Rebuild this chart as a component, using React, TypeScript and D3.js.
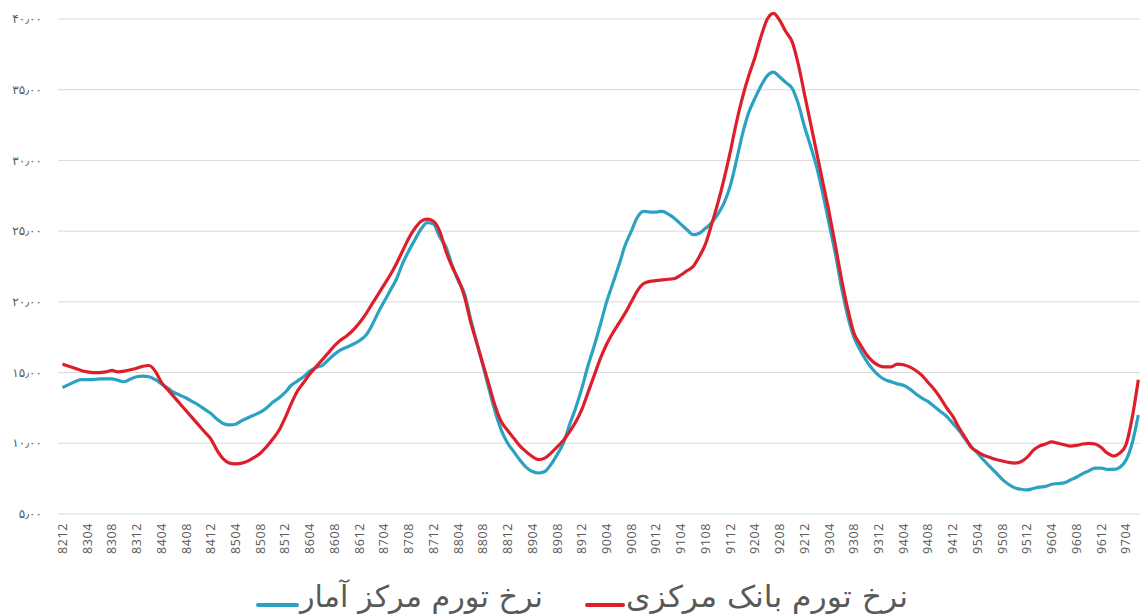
import React from 'react';
import * as d3 from 'd3';

// monthly inflation rates, 8212 .. 9706
const startYear = 82;
const startMonth = 12;

const centralBank = [
  15.6, 15.45, 15.3, 15.15, 15.05, 15.0, 15.0, 15.05, 15.15, 15.05,
  15.1, 15.2, 15.3, 15.45, 15.5, 15.1, 14.3, 13.8, 13.3, 12.8,
  12.3, 11.8, 11.3, 10.8, 10.3, 9.5, 8.9, 8.6, 8.55, 8.6,
  8.75, 9.0, 9.3, 9.75, 10.3, 10.9, 11.8, 12.8, 13.7, 14.3,
  14.9, 15.4, 15.9, 16.4, 16.9, 17.3, 17.6, 18.0, 18.5, 19.1,
  19.8, 20.5, 21.2, 21.9, 22.7, 23.6, 24.5, 25.2, 25.7, 25.85,
  25.7, 25.0, 23.6, 22.5, 21.6, 20.4, 18.6, 17.1, 15.6, 14.1,
  12.6, 11.5, 10.9, 10.35, 9.8, 9.4, 9.05, 8.85, 8.95, 9.3,
  9.75, 10.2, 10.8, 11.5, 12.4, 13.6, 14.8, 16.0, 17.0, 17.8,
  18.5, 19.2, 20.0, 20.8, 21.3, 21.45, 21.5, 21.55, 21.6, 21.65,
  21.9, 22.2, 22.5, 23.2, 24.1, 25.5, 27.0, 28.7, 30.6, 32.7,
  34.5, 36.0, 37.3, 38.8, 40.0, 40.4, 39.9, 39.1, 38.4, 36.8,
  34.7, 32.6, 30.5, 28.4, 26.3, 24.0, 21.6, 19.5, 17.8, 17.0,
  16.3, 15.8, 15.5, 15.4, 15.4, 15.6, 15.55, 15.4, 15.15, 14.8,
  14.3, 13.8, 13.2, 12.5, 11.9, 11.1, 10.4, 9.7, 9.4, 9.15,
  9.0, 8.85, 8.75, 8.65, 8.6, 8.7, 9.0, 9.5, 9.8, 9.95,
  10.1, 10.0, 9.9, 9.8, 9.85, 9.95, 10.0, 9.95, 9.7, 9.3,
  9.1, 9.3, 9.9, 11.8, 14.5,
];

const statCenter = [
  13.95, 14.15, 14.35, 14.5, 14.5, 14.5, 14.55, 14.55, 14.55, 14.45,
  14.35, 14.55, 14.7, 14.75, 14.7, 14.5, 14.2, 13.9, 13.6, 13.4,
  13.2, 12.95, 12.7, 12.4, 12.1, 11.7, 11.4, 11.3, 11.35, 11.6,
  11.8, 12.0, 12.2, 12.5, 12.9, 13.2, 13.6, 14.1, 14.4, 14.7,
  15.1, 15.35, 15.5, 15.9, 16.3, 16.6, 16.8, 17.0, 17.25, 17.6,
  18.3, 19.2, 20.0, 20.8, 21.6, 22.7, 23.6, 24.4, 25.15, 25.6,
  25.5, 24.6, 23.9, 22.6, 21.5, 20.6, 18.8, 17.1, 15.5, 13.8,
  12.2, 10.9, 10.0, 9.4, 8.8, 8.3, 8.0, 7.9, 8.0, 8.5,
  9.2, 10.0, 11.3, 12.5, 13.9, 15.5, 16.9, 18.4, 20.0, 21.3,
  22.6, 24.0, 25.0, 26.0, 26.4, 26.35, 26.35, 26.4, 26.2, 25.9,
  25.5, 25.1, 24.75, 24.85, 25.2, 25.6, 26.2, 27.0, 28.2, 30.0,
  31.9, 33.4, 34.4, 35.3, 36.0, 36.25, 35.9, 35.5, 35.1, 34.0,
  32.4, 31.0, 29.5, 27.6, 25.5, 23.4, 21.0, 19.0, 17.5, 16.6,
  15.85, 15.25, 14.8, 14.5, 14.35, 14.2, 14.1, 13.85, 13.5, 13.2,
  12.95, 12.6, 12.25, 11.9, 11.4, 10.9, 10.3, 9.75, 9.3, 8.8,
  8.35, 7.9, 7.45, 7.1, 6.85, 6.75, 6.7, 6.8, 6.9, 6.95,
  7.1, 7.15, 7.2, 7.4, 7.6, 7.85, 8.05, 8.25, 8.25, 8.15,
  8.15, 8.3, 8.8, 10.0, 12.0,
];

const tickLabels = [
  '8212', '8304', '8308', '8312', '8404', '8408', '8412', '8504', '8508', '8512',
  '8604', '8608', '8612', '8704', '8708', '8712', '8804', '8808', '8812', '8904',
  '8908', '8912', '9004', '9008', '9012', '9104', '9108', '9112', '9204', '9208',
  '9212', '9304', '9308', '9312', '9404', '9408', '9412', '9504', '9508', '9512',
  '9604', '9608', '9612', '9704',
];

const yTicks = [5, 10, 15, 20, 25, 30, 35, 40];
const yTickLabels = ['۵٫۰۰', '۱۰٫۰۰', '۱۵٫۰۰', '۲۰٫۰۰', '۲۵٫۰۰', '۳۰٫۰۰', '۳۵٫۰۰', '۴۰٫۰۰'];

const seriesNames = ['نرخ تورم مرکز آمار', 'نرخ تورم بانک مرکزی'];
const colors = ['#2ba2c1', '#dd1f2b'];

// month codes like 8212, 8301 ...
const months = centralBank.map((_, i) => {
  const m = startMonth - 1 + i;
  const y = startYear + Math.floor(m / 12);
  const mm = (m % 12) + 1;
  return `${y}${mm < 10 ? '0' : ''}${mm}`;
});

const App = () => {
  const width = 1140;
  const height = 616;

  const x = d3.scalePoint<string>()
    .domain(months)
    .range([62.5, 62.5 + (months.length - 1) * 6.183]);

  const y = d3.scaleLinear().domain([5, 40]).range([514, 19]);

  const line = d3.line<number>()
    .x((_, i) => x(months[i]) as number)
    .y(d => y(d))
    .curve(d3.curveMonotoneX);

  const gray = '#595959';

  return (
    <svg width={width} height={height} style={{ position: 'absolute', left: 0, top: 0 }}>
      <rect width={width} height={height} fill="#ffffff" />
      {yTicks.map((t, i) => (
        <g key={t}>
          <line x1={58} x2={width} y1={y(t)} y2={y(t)} stroke="#d9d9d9" strokeWidth={1} />
          <text x={42} y={y(t)} dy="0.35em" textAnchor="end" fontSize={12}
            fontFamily="DejaVu Sans" fill={gray}>{yTickLabels[i]}</text>
        </g>
      ))}
      {tickLabels.map(l => (
        <text key={l} transform={`translate(${x(l)},523) rotate(-90)`} dy="0.35em"
          textAnchor="end" fontSize={12.5} letterSpacing={0.6}
          fontFamily="Open Sans, sans-serif" fill={gray}>{l}</text>
      ))}
      <path d={line(statCenter) || ''} fill="none" stroke={colors[0]} strokeWidth={3.2}
        strokeLinejoin="round" />
      <path d={line(centralBank) || ''} fill="none" stroke={colors[1]} strokeWidth={3.2}
        strokeLinejoin="round" />

      {/* legend */}
      <line x1={258} x2={297} y1={605} y2={605} stroke={colors[0]} strokeWidth={4} strokeLinecap="round" />
      <text x={300} y={607} fontSize={30} fontFamily="DejaVu Sans" fill={gray}
        textAnchor="start" textLength={243} lengthAdjust="spacingAndGlyphs">{seriesNames[0]}</text>
      <line x1={587} x2={623} y1={605} y2={605} stroke={colors[1]} strokeWidth={4} strokeLinecap="round" />
      <text x={626} y={607} fontSize={30} fontFamily="DejaVu Sans" fill={gray}
        textAnchor="start" textLength={282} lengthAdjust="spacingAndGlyphs">{seriesNames[1]}</text>
    </svg>
  );
};

export default App;
